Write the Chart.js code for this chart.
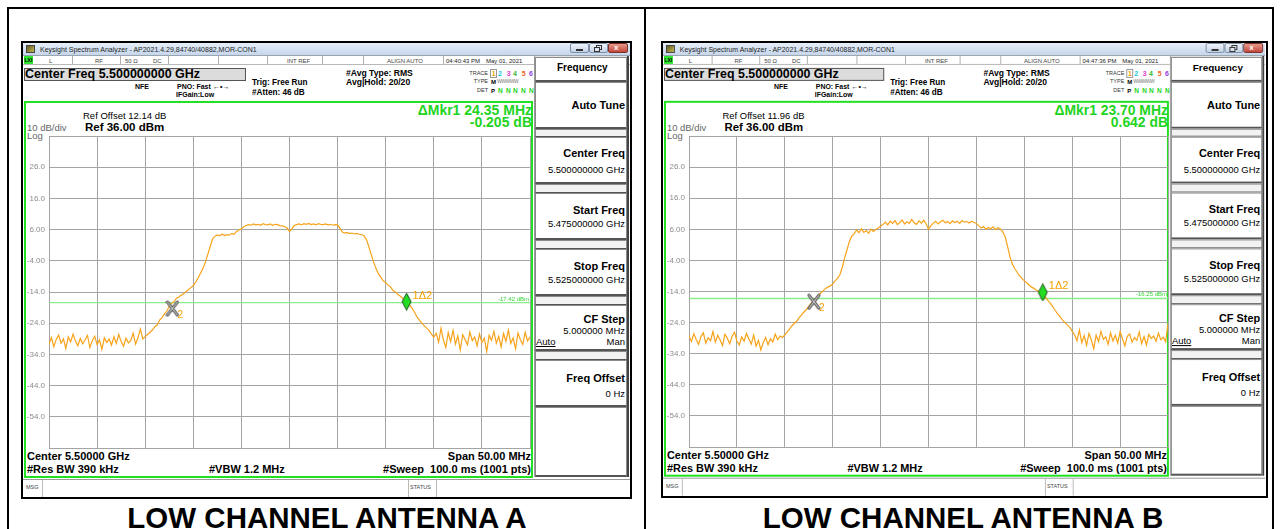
<!DOCTYPE html>
<html>
<head>
<meta charset="utf-8">
<script src="https://cdn.jsdelivr.net/npm/chart.js@4.4.1/dist/chart.umd.min.js"></script>
<style>
  html, body { margin: 0; padding: 0; }
  body { width: 1281px; height: 529px; overflow: hidden; position: relative; background: #fff;
         font-family: "Liberation Sans", Arial, sans-serif; color: #000; }
  .a { position: absolute; white-space: nowrap; line-height: 1; }
  .panel { position: absolute; top: 43px; width: 607px; height: 454px; transform-origin: 0 0; }
  .cap { position: absolute; top: 503px; width: 640px; text-align: center; font-weight: bold; font-size: 29.5px; line-height: 1; }
</style>
</head>
<body>
<!-- table lines -->
<div class="a" style="left:7px;top:7px;width:1267px;height:2px;background:#000"></div>
<div class="a" style="left:7px;top:7px;width:2px;height:522px;background:#000"></div>
<div class="a" style="left:644px;top:7px;width:2px;height:522px;background:#000"></div>
<div class="a" style="left:1272px;top:7px;width:2px;height:522px;background:#000"></div>

<div class="a" style="left:21px;top:41px;width:611px;height:458px;border:2px solid #000;box-sizing:border-box"></div>
<div class="a" style="left:661px;top:41px;width:607px;height:457px;border:2px solid #000;box-sizing:border-box"></div>

<div class="panel" id="pA" style="left:23px"></div>
<div class="panel" id="pB" style="left:663px;transform:scale(0.992,0.997)"></div>

<div class="cap" style="left:7px">LOW CHANNEL ANTENNA A</div>
<div class="cap" style="left:643px">LOW CHANNEL ANTENNA B</div>

<script>
// sweep: 5.475 - 5.525 GHz, values in dBm (every 0.25 MHz)
const startMHz = 5475;
const stopMHz = 5525;

const traceA = [
  -30.8, -28.6, -31.5, -29.2, -27.8, -30.4, -29.0, -32.1, -28.4, -30.0,
  -27.5, -29.8, -31.2, -28.9, -30.6, -29.3, -27.9, -31.8, -29.6, -28.2,
  -30.9, -29.4, -32.4, -28.7, -30.2, -29.1, -31.0, -28.3, -30.5, -27.6,
  -29.9, -31.4, -28.8, -30.3, -29.5, -27.2, -30.7, -28.6, -25.9,
  -29.0, -28.3, -27.6, -26.9, -26.2, -25.1, -24.6, -23.0, -22.2, -21.0,
  -20.1, -18.6, -17.6, -17.1, -16.0, -15.6, -15.0, -14.6, -13.8, -13.3,
  -12.6, -12.0, -10.8, -9.5, -8.0, -6.5, -4.5, -2.0, 0.5, 3.0,
  3.9,
  4.3, 4.0, 4.6, 4.1, 4.4, 4.2, 4.8, 4.5, 5.4, 5.9, 6.3, 6.9,
  7.3, 7.6, 7.4, 7.8, 7.5, 7.7, 7.4, 7.9, 7.6, 7.5, 7.8, 7.4, 7.7, 7.6, 7.3,
  7.2, 7.0, 6.5, 5.4, 6.3,
  7.3, 7.6, 7.8, 7.5, 7.9, 7.7, 8.0, 7.6, 7.8, 7.5, 7.9, 7.7, 7.6, 7.8, 7.5, 7.7, 7.4, 7.6, 7.5,
  6.4, 5.2, 4.9, 5.1, 4.7, 4.9, 4.6, 4.8, 4.5, 4.4,
  4.0, 2.8, 0.5, -2.0, -4.5, -6.5, -8.2, -9.3, -10.4, -11.0,
  -11.8, -12.4, -13.5, -13.9, -14.8, -15.3, -16.0, -16.8, -17.4, -18.2,
  -19.3, -20.5, -22.0, -23.0, -24.0, -24.8, -25.6, -26.3, -27.5,
  -28.5, -27.2, -30.1, -25.6, -29.4, -31.8, -27.0, -29.9, -26.3, -30.7,
  -28.1, -32.6, -27.7, -29.2, -30.9, -26.8, -29.6, -28.4, -31.3, -27.5,
  -30.2, -28.8, -33.1, -27.9, -29.5, -26.6, -30.4, -28.2, -31.6, -27.3,
  -29.8, -26.2, -30.5, -28.7, -32.2, -27.1, -29.3, -30.8, -26.9, -29.7,
  -28.4
];

const traceB = [
  -28.2, -30.1, -27.6, -29.4, -31.0, -28.5, -27.3, -30.6, -28.9, -29.8,
  -26.9, -30.3, -28.1, -29.6, -31.4, -27.8, -29.0, -30.8, -28.4, -27.1,
  -29.9, -31.2, -28.6, -30.0, -27.5, -29.3, -30.9, -28.0, -31.6, -29.7,
  -32.8, -30.4, -28.8, -31.1, -29.2, -30.2, -27.7, -29.5, -28.3,
  -28.8, -28.0, -27.0, -26.0, -25.0, -24.2, -23.5, -22.4, -21.5, -20.6,
  -19.8, -18.8, -17.8, -17.0, -16.2, -15.2, -14.5, -13.8, -13.0, -12.6,
  -12.2, -11.6, -10.6, -9.8, -8.6, -6.2, -3.2, -0.5, 2.2, 3.8,
  4.6, 5.8, 4.9, 6.2, 5.0, 5.6, 4.7, 6.0, 5.3, 5.9,
  6.4, 7.0,
  7.6, 8.3, 7.4, 8.6, 7.9, 8.8, 7.5, 8.2, 9.0, 7.7, 8.4, 7.9, 9.2, 8.1, 7.6, 8.7, 8.0, 8.9,
  7.8, 6.1, 7.2,
  8.0, 8.6, 7.7, 8.4, 8.9, 8.1, 8.5, 7.8, 8.7, 8.2, 8.6, 7.9, 8.8, 8.3, 8.5, 8.0, 8.6, 8.2, 7.9,
  7.1, 6.4, 6.9, 6.0, 6.6, 6.2, 6.8, 5.9, 6.5, 6.1,
  5.2, 3.6, 0.5, -2.8, -5.2, -6.6, -7.8, -9.0, -9.8, -10.6,
  -11.2, -11.9, -12.6, -13.0, -13.5, -13.9, -14.3, -15.2, -16.0, -17.0,
  -17.9, -19.0, -20.2, -21.3, -22.2, -23.2, -24.0, -24.8, -25.5, -26.8,
  -27.9, -29.8, -26.4, -30.5, -28.2, -31.3, -27.5, -29.6, -32.4, -28.0,
  -30.1, -26.8, -29.4, -28.6, -31.0, -27.3, -29.9, -28.1, -30.6, -26.9,
  -29.2, -31.5, -28.4, -27.6, -30.3, -28.8, -29.7, -27.0, -30.8, -28.5,
  -31.2, -27.8, -29.1, -28.3, -30.0, -27.4, -29.5, -28.7, -30.2, -24.3
];

// markers: [marker 2 (X), marker 1 (diamond)]
const markerA_freq = [5487.83, 5512.17];
const markerA_level = [-19.3, -17.1];
const markerB_freq = [5488.04, 5511.93];
const markerB_level = [-17.3, -14.3];

const dispLineA = -17.42;
const dispLineB = -16.25;

const yTickValues = [26, 16, 6, -4, -14, -24, -34, -44, -54];
const yTickLabels = ['26.0', '16.0', '6.00', '-4.00', '-14.0', '-24.0', '-34.0', '-44.0', '-54.0'];

Chart.defaults.font.family = '"Liberation Sans", Arial, sans-serif';

// marker symbols
const xImg = document.createElement('canvas');
xImg.width = 14; xImg.height = 17;
(function () {
  const c = xImg.getContext('2d');
  c.lineCap = 'round';
  c.beginPath();
  c.moveTo(2, 2); c.lineTo(12, 15);
  c.moveTo(12, 2); c.lineTo(2, 15);
  c.strokeStyle = '#555'; c.lineWidth = 3; c.stroke();
  c.strokeStyle = '#e8e8e8'; c.lineWidth = 1; c.stroke();
})();

const dImg = document.createElement('canvas');
dImg.width = 11; dImg.height = 18;
(function () {
  const c = dImg.getContext('2d');
  c.beginPath();
  c.moveTo(5.5, 0.5); c.lineTo(10, 9); c.lineTo(5.5, 17.5); c.lineTo(1, 9); c.closePath();
  c.fillStyle = '#22dd22'; c.fill();
  c.strokeStyle = '#1c4f1c'; c.lineWidth = 1; c.stroke();
})();

// display-line readout and marker labels
const markerText = {
  id: 'markerText',
  afterDatasetsDraw(chart, args, opts) {
    const ctx = chart.ctx;
    const ys = chart.scales.y;
    ctx.save();
    ctx.fillStyle = '#33d633';
    ctx.font = '6px "Liberation Sans"';
    ctx.textAlign = 'right';
    ctx.fillText(opts.lineText, chart.chartArea.right - 1, ys.getPixelForValue(opts.lineValue) - 2);
    chart.data.datasets.forEach((ds, i) => {
      if (!ds.tag) return;
      const pt = chart.getDatasetMeta(i).data[0];
      ctx.fillStyle = '#f5a000';
      ctx.font = ds.tagSize + 'px "Liberation Sans"';
      ctx.textAlign = 'left';
      ctx.fillText(ds.tag, pt.x + ds.tagDx, pt.y + ds.tagDy);
    });
    ctx.restore();
  }
};

function T(x, y, s, fs, st) {
  return `<div class="a" style="left:${x}px;top:${(y - fs / 2).toFixed(1)}px;font-size:${fs}px;${st || ''}">${s}</div>`;
}
function R(xr, y, s, fs, st) {
  return `<div class="a" style="left:${xr - 300}px;width:300px;text-align:right;top:${(y - fs / 2).toFixed(1)}px;font-size:${fs}px;${st || ''}">${s}</div>`;
}
function box(x, y, w, h, st) {
  return `<div class="a" style="left:${x}px;top:${y}px;width:${w}px;height:${h}px;box-sizing:border-box;${st || ''}"></div>`;
}

function buildPanel(el, p) {
  let h = '';
  const B = 'font-weight:bold;';
  const G = 'font-weight:bold;color:#22d422;';
  // window title bar
  h += box(0, 0, 607, 12, 'background:linear-gradient(#e6eef8,#c6d6eb);');
  h += box(3, 2, 9, 8, 'background:linear-gradient(135deg,#5e5a22,#c9b850);border:1px solid #444;');
  h += T(17, 6, 'Keysight Spectrum Analyzer - AP2021.4.29,84740/40882,MOR-CON1', 7, 'color:#1e1e1e;');
  h += box(547, 0, 19, 10, 'background:linear-gradient(#f0f4fa,#c4d2e6);border:1px solid #7d8ea8;border-radius:2px;');
  h += box(553, 6, 7, 2, 'background:#333;');
  h += box(566, 0, 19, 10, 'background:linear-gradient(#f0f4fa,#c4d2e6);border:1px solid #7d8ea8;border-radius:2px;');
  h += box(573, 2, 6, 5, 'border:1px solid #333;');
  h += box(571, 4, 6, 5, 'border:1px solid #333;background:#dde6f2;');
  h += box(585, 0, 20, 10, 'background:linear-gradient(#e89a8c,#c4463a);border:1px solid #7a3028;border-radius:2px;');
  h += T(591, 5, 'x', 8, 'color:#fff;font-weight:bold;');
  // status row
  h += box(0, 12, 607, 10, 'background:#fff;border-top:1px solid #9aa4b0;border-bottom:1px solid #b8b8b8;');
  h += box(1, 13, 9, 8, 'background:#2ee62e;');
  h += T(1.5, 17.5, 'LXI', 5, B);
  [49, 97, 145, 195, 244, 299, 340, 420].forEach(x => { h += box(x, 13, 1, 8, 'background:#b0b0b0;'); });
  const st = 'color:#444;';
  h += T(26, 18, 'L', 6, st);
  h += T(72, 18, 'RF', 6, st);
  h += T(102, 18, '50 Ω', 6, st);
  h += T(130, 18, 'DC', 6, st);
  h += T(264, 18, 'INT REF', 6, st);
  h += T(364, 18, 'ALIGN AUTO', 6, st);
  h += T(423, 18, p.time, 6, 'color:#222;');
  h += T(463, 18, 'May 01, 2021', 6, 'color:#222;');
  // header
  h += box(1, 25, 222, 13, 'background:#dcdcdc;border:1px solid #555;');
  h += T(2, 31.5, 'Center Freq 5.500000000 GHz', 12.5, B);
  h += T(112, 43.7, 'NFE', 7, B);
  h += T(154, 43.7, 'PNO: Fast', 7, B);
  h += T(190, 43.2, '←•→', 7, B);
  h += T(153, 51, 'IFGain:Low', 7, B);
  h += T(229, 40.3, 'Trig: Free Run', 8.2, B);
  h += T(229, 49.7, '#Atten: 46 dB', 8.2, B);
  h += T(323, 30.3, '#Avg Type: RMS', 8.6, B);
  h += T(323, 39.7, 'Avg|Hold: 20/20', 8.6, B);
  h += R(465, 30.3, 'TRACE', 5.5, 'color:#333;');
  h += R(465, 38.7, 'TYPE', 5.5, 'color:#333;');
  h += R(465, 48, 'DET', 5.5, 'color:#333;');
  h += box(467, 26, 7, 9, 'border:1px solid #999;');
  const trCols = ['#e8a400', '#18c8e0', '#e040d0', '#30b830', '#f06020', '#9040e0'];
  const trX = [468.7, 475, 483.7, 490, 498.7, 506];
  trX.forEach((x, i) => { h += T(x, 30.5, String(i + 1), 7, 'font-weight:bold;color:' + trCols[i] + ';'); });
  h += T(468, 38.7, 'M', 6, B);
  h += T(474, 38.7, 'WWWWW', 5, 'color:#777;letter-spacing:-0.5px;');
  h += T(468, 48, 'P', 6, B);
  [475, 483, 490, 498, 506].forEach(x => { h += T(x, 48, 'N', 6.5, G); });
  // softkeys
  h += box(511, 13, 95, 421, 'background:#e4e4e4;border-left:1px solid #999;border-right:2px solid #444;');
  const sk = [[14, 25], [39, 47], [86, 8], [94, 47], [141, 9], [150, 47], [197, 9], [206, 47], [253, 9], [262, 46], [308, 9], [317, 47], [364, 70]];
  sk.forEach(([y, hh]) => {
    const filler = hh < 12;
    h += box(512, y, 92, hh, 'background:' + (filler ? '#f2f2f2' : '#fff') + ';border:1px solid #8a8a8a;border-bottom:' + (filler ? '1px' : '2px') + ' solid #555;');
  });
  h += T(534, 25.3, 'Frequency', 10, B);
  h += R(602, 62, 'Auto Tune', 11, B);
  h += R(602, 110, 'Center Freq', 11, B);
  h += R(602, 126.3, '5.500000000 GHz', 9.5);
  h += R(602, 167, 'Start Freq', 11, B);
  h += R(602, 180.3, '5.475000000 GHz', 9.5);
  h += R(602, 223, 'Stop Freq', 11, B);
  h += R(602, 236.3, '5.525000000 GHz', 9.5);
  h += R(602, 276.3, 'CF Step', 11, B);
  h += R(602, 288, '5.000000 MHz', 9.5);
  h += T(513, 298.7, 'Auto', 9.5, 'text-decoration:underline;');
  h += R(602, 298.7, 'Man', 9.5);
  h += R(602, 335.3, 'Freq Offset', 11, B);
  h += R(602, 350.3, '0 Hz', 9.5);
  // measurement display
  h += box(1, 58, 509, 377, 'border:2px solid #22e022;background:#fff;');
  h += T(60, 73, p.refOffset, 9.5);
  h += T(4, 85, '10 dB/div', 9.5, 'color:#666;');
  h += T(62, 85, 'Ref 36.00 dBm', 11.5, B);
  h += T(4, 92.5, 'Log', 9.5, 'color:#666;');
  h += R(509, 67, p.mkrFreq, 14, G);
  h += R(509, 78.7, p.mkrDelta, 14, G);
  h += T(4, 413.7, 'Center 5.50000 GHz', 11, B);
  h += R(508, 413.7, 'Span 50.00 MHz', 11, B);
  h += T(4, 426, '#Res BW 390 kHz', 11, B);
  h += T(186, 426, '#VBW 1.2 MHz', 11, B);
  h += R(508, 426, '#Sweep&nbsp;&nbsp;100.0 ms (1001 pts)', 11, B);
  // message row
  h += box(0, 436, 607, 18, 'background:#fff;border-top:1px solid #999;');
  h += box(0, 437, 20, 17, 'border-right:1px solid #bbb;');
  h += T(3, 444.5, 'MSG', 5.5, 'color:#444;');
  h += box(385, 437, 29, 17, 'border-left:1px solid #bbb;border-right:1px solid #bbb;');
  h += T(387, 444.5, 'STATUS', 5.5, 'color:#444;');
  el.innerHTML = h;

  // the plot canvas sits on the page itself (not inside the scaled panel) so lines stay crisp
  const cv = document.createElement('canvas');
  cv.width = p.cv[2]; cv.height = p.cv[3];
  cv.style.cssText = `position:absolute;left:${p.cv[0]}px;top:${p.cv[1]}px;width:${p.cv[2]}px;height:${p.cv[3]}px;`;
  document.body.appendChild(cv);

  const step = (stopMHz - startMHz) / (p.trace.length - 1);
  const pts = p.trace.map((v, i) => ({ x: startMHz + i * step, y: v }));

  new Chart(cv, {
    type: 'line',
    data: {
      datasets: [
        { data: [{ x: p.mkF[0], y: p.mkV[0] }], showLine: false, pointStyle: xImg, pointRadius: 6,
          tag: '2', tagSize: 10, tagDx: 5, tagDy: 9, order: 0 },
        { data: [{ x: p.mkF[1], y: p.mkV[1] }], showLine: false, pointStyle: dImg, pointRadius: 6,
          tag: '1Δ2', tagSize: 11, tagDx: 6, tagDy: -3, order: 0 },
        { data: pts, borderColor: '#f7a31a', borderWidth: 1.2, pointRadius: 0, tension: 0, order: 1 },
        { data: [{ x: startMHz, y: p.lineV }, { x: stopMHz, y: p.lineV }], borderColor: '#8aec8a',
          borderWidth: 1.3, pointRadius: 0, order: 2 }
      ]
    },
    options: {
      responsive: false,
      animation: false,
      devicePixelRatio: 1,
      layout: { autoPadding: false, padding: { top: 6, right: 2, bottom: 4, left: 0 } },
      plugins: {
        legend: { display: false },
        tooltip: { enabled: false },
        markerText: { lineValue: p.lineV, lineText: p.lineV.toFixed(2) + ' dBm' }
      },
      scales: {
        x: {
          type: 'linear', min: startMHz, max: stopMHz,
          ticks: { stepSize: 5, display: false },
          grid: { color: '#a4a4a4', drawTicks: false },
          border: { color: '#a4a4a4' },
          afterFit: s => { s.height = 0; s.paddingLeft = 0; s.paddingRight = 0; }
        },
        y: {
          min: -64, max: 36,
          ticks: {
            stepSize: 10, padding: 4, color: '#8c8c8c', font: { size: 8 },
            callback: v => { const k = yTickValues.indexOf(v); return k < 0 ? '' : yTickLabels[k]; }
          },
          grid: { color: '#a4a4a4', drawTicks: false },
          border: { color: '#a4a4a4' },
          afterFit: s => { s.width = 24; s.paddingTop = 0; s.paddingBottom = 0; }
        }
      }
    },
    plugins: [markerText]
  });
}

buildPanel(document.getElementById('pA'), {
  time: '04:40:43 PM', refOffset: 'Ref Offset 12.14 dB', mkrFreq: 'ΔMkr1 24.35 MHz', mkrDelta: '-0.205 dB',
  trace: traceA, mkF: markerA_freq, mkV: markerA_level, lineV: dispLineA, cv: [25, 130, 507, 322]
});
buildPanel(document.getElementById('pB'), {
  time: '04:47:36 PM', refOffset: 'Ref Offset 11.96 dB', mkrFreq: 'ΔMkr1 23.70 MHz', mkrDelta: '0.642 dB',
  trace: traceB, mkF: markerB_freq, mkV: markerB_level, lineV: dispLineB, cv: [665, 130, 505, 321]
});
</script>
</body>
</html>
